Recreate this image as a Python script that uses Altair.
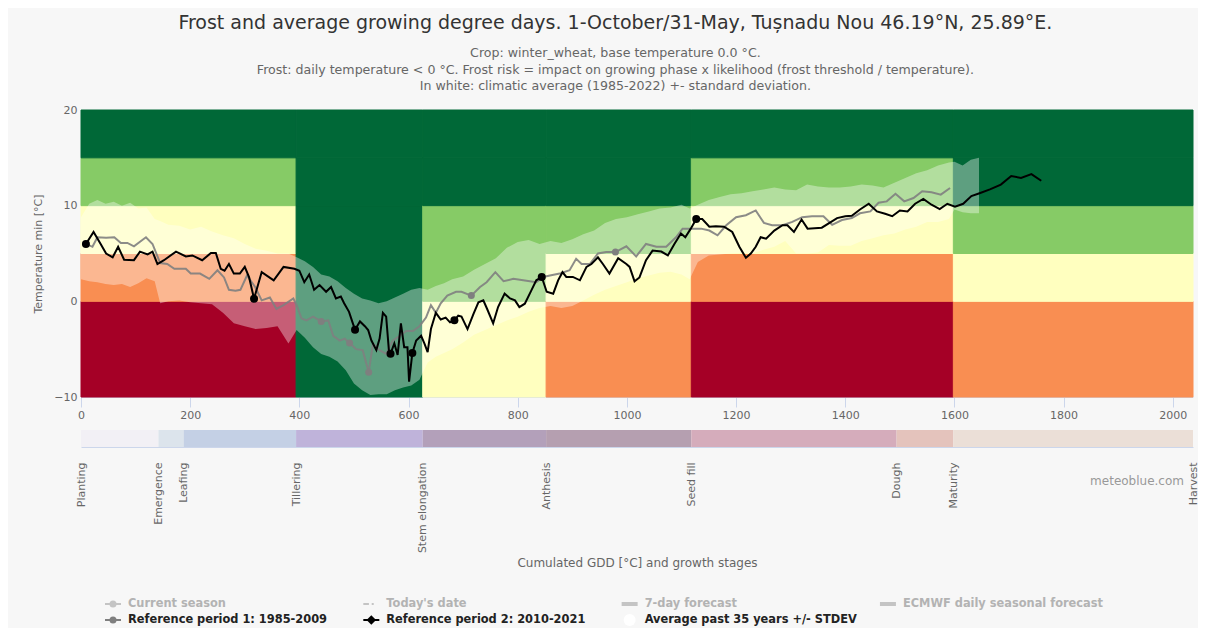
import altair as alt
import pandas as pd

# ---------------- data ----------------
title_text = "Frost and average growing degree days. 1-October/31-May, Tușnadu Nou 46.19°N, 25.89°E."
subtitle_lines = [
    "Crop: winter_wheat, base temperature 0.0 °C.",
    "Frost: daily temperature < 0 °C. Frost risk = impact on growing phase x likelihood (frost threshold / temperature).",
    "In white: climatic average (1985-2022) +- standard deviation.",
]

# growth stages (cumulated GDD where each stage starts)
stage_names = ["Planting", "Emergence", "Leafing", "Tillering", "Stem elongation",
               "Anthesis", "Seed fill", "Dough", "Maturity", "Harvest"]
stage_gdd = [0, 142, 188, 394, 626, 852, 1118, 1494, 1598, 2037]
stage_colors = ["#f2f0f5", "#dce4ec", "#c4d0e5", "#bfb3da", "#b3a0ba",
                "#b59fb0", "#d5acbb", "#e4c3bc", "#ebdfd7"]

# frost-risk zones: GDD ranges x temperature bands
zone_start = [0, 394, 626, 852, 1118, 1598]
zone_end = [394, 626, 852, 1118, 1598, 2037]
band_edges = [-10, 0, 5, 10, 15, 20]
zone_levels = [  # risk class per temperature band, bottom to top
    ["rd", "or", "yl", "lg", "dg"],
    ["dg", "dg", "dg", "dg", "dg"],
    ["yl", "lg", "lg", "dg", "dg"],
    ["or", "yl", "lg", "dg", "dg"],
    ["rd", "or", "yl", "lg", "dg"],
    ["or", "yl", "lg", "dg", "dg"],
]
risk_keys = ["dg", "lg", "yl", "or", "rd"]
risk_colors = ["#006837", "#86cb66", "#ffffbf", "#f98e52", "#a50026"]

# climatic average +- stdev (gdd, lower, upper)
band = [
    (0, 2.3, 8.8), (15, 2.1, 10.2), (30, 2.0, 10.6), (45, 1.8, 10.2), (60, 1.7, 10.4),
    (75, 1.8, 10.0), (90, 1.5, 10.3), (105, 1.9, 9.7), (120, 2.4, 9.8), (135, 2.1, 8.6),
    (145, -0.2, 8.4), (160, 0.0, 8.0), (180, 0.1, 7.9), (200, -0.1, 7.5), (220, -0.2, 7.8),
    (240, -0.3, 7.3), (260, -1.2, 6.9), (280, -2.3, 6.6), (300, -2.6, 6.0), (320, -2.9, 5.5),
    (340, -2.8, 5.3), (360, -2.6, 5.0), (380, -4.4, 5.0), (395, -3.0, 4.6), (410, -3.8, 4.2),
    (425, -4.8, 3.6), (440, -5.5, 2.8), (455, -5.8, 2.6), (470, -6.3, 2.1), (485, -7.2, 1.4),
    (500, -8.6, 0.8), (515, -9.3, 0.3), (530, -9.8, 0.1), (545, -9.7, -0.2), (560, -9.7, 0.0),
    (575, -9.3, 0.4), (590, -9.0, 0.8), (605, -8.8, 1.2), (620, -8.2, 1.4), (635, -6.4, 1.2),
    (650, -5.8, 1.6), (665, -5.4, 1.9), (680, -5.0, 2.3), (700, -4.3, 2.6), (720, -3.5, 3.3),
    (740, -3.0, 3.9), (760, -2.5, 4.5), (780, -2.0, 5.6), (800, -1.6, 6.2), (820, -1.1, 6.4),
    (840, -0.7, 6.0), (860, -0.5, 6.3), (880, -0.7, 6.1), (900, -0.5, 6.5), (920, 0.1, 7.0),
    (940, 0.7, 7.4), (960, 1.2, 8.2), (980, 1.6, 8.6), (1000, 2.0, 8.8), (1020, 2.4, 9.1),
    (1040, 2.7, 9.4), (1060, 3.0, 9.7), (1080, 3.1, 9.8), (1100, 2.8, 10.1), (1115, 2.3, 9.7),
    (1130, 4.1, 10.1), (1150, 4.8, 10.6), (1170, 4.9, 10.9), (1190, 5.0, 11.2), (1210, 5.05, 11.3),
    (1230, 5.0, 11.5), (1250, 5.4, 11.7), (1270, 5.7, 11.9), (1290, 6.3, 11.7), (1310, 5.0, 11.6),
    (1330, 5.0, 12.2), (1350, 5.1, 12.0), (1370, 5.9, 11.9), (1390, 5.8, 11.9), (1410, 5.8, 12.0),
    (1430, 6.3, 12.2), (1450, 6.6, 12.1), (1470, 6.9, 11.9), (1490, 7.1, 12.4), (1510, 7.5, 12.9),
    (1530, 7.8, 13.4), (1550, 8.3, 13.7), (1570, 8.3, 14.2), (1590, 8.6, 14.5), (1600, 9.6, 14.6),
    (1615, 9.3, 14.2), (1630, 9.2, 14.8), (1645, 9.2, 15.0),
]

# Reference period 1: 1985-2009 (gdd, tmin)
ref1 = [
    (9, 6.0), (21, 5.7), (30, 6.7), (46, 6.65), (61, 6.7), (73, 6.1), (85, 6.1), (97, 5.75),
    (119, 6.7), (131, 6.0), (145, 4.0), (158, 3.9), (171, 3.4), (192, 3.4), (201, 2.9), (218, 2.9),
    (235, 2.35), (250, 3.25), (262, 2.5), (271, 1.2), (283, 1.1), (292, 1.2), (304, 2.7), (319, 1.5),
    (331, 0.1), (346, 0.4), (358, -0.8), (371, -0.4), (389, 0.3), (395, -0.4), (404, -1.8), (413, -2.0),
    (425, -1.6), (440, -2.1), (453, -2.0), (462, -3.6), (474, -4.1), (483, -3.9), (492, -4.35), (504, -5.0),
    (516, -5.1), (527, -7.4), (535, -4.4), (547, -5.1), (559, -5.5), (571, -4.1), (584, -3.6), (596, -3.1),
    (608, -3.1), (620, -2.6), (632, -1.7), (641, -0.4), (650, -1.2), (659, -0.2), (671, 0.6), (687, 1.0),
    (697, 1.0), (715, 0.6), (731, 1.5), (743, 2.0), (759, 3.05), (774, 2.1), (792, 2.35), (810, 2.2),
    (834, 2.0), (847, 2.55), (859, 2.7), (877, 2.9), (895, 3.25), (907, 4.45), (917, 3.9), (932, 3.9),
    (947, 5.0), (962, 5.15), (979, 5.15), (999, 5.75), (1017, 4.7), (1035, 6.0), (1054, 5.7), (1072, 5.7),
    (1090, 6.7), (1102, 7.6), (1121, 7.6), (1136, 7.6), (1151, 7.4), (1166, 6.9), (1182, 7.95), (1200, 8.8),
    (1218, 9.0), (1236, 9.5), (1251, 8.2), (1266, 7.95), (1285, 7.95), (1303, 8.3), (1321, 8.8), (1339, 8.9),
    (1360, 8.9), (1376, 8.0), (1394, 8.5), (1412, 8.7), (1427, 9.2), (1446, 9.4), (1461, 10.3), (1476, 10.45),
    (1492, 11.25), (1508, 10.45), (1525, 10.8), (1541, 11.5), (1558, 11.4), (1575, 11.15), (1592, 11.85),
]
ref1_markers = [(440, -2.1), (492, -4.35), (527, -7.4), (715, 0.6), (979, 5.15)]

# Reference period 2: 2010-2021 (gdd, tmin)
ref2 = [
    (9, 6.0), (23, 7.25), (36, 6.0), (46, 5.0), (58, 4.6), (68, 5.7), (79, 4.35), (97, 4.3),
    (108, 5.2), (122, 4.9), (131, 5.2), (140, 3.9), (152, 4.3), (174, 5.2), (192, 4.7), (204, 4.8),
    (222, 4.3), (238, 5.05), (247, 5.05), (256, 3.4), (263, 3.2), (271, 3.9), (280, 2.9), (291, 2.9),
    (300, 3.6), (308, 2.5), (317, 0.28), (331, 3.06), (353, 2.2), (371, 3.6), (391, 3.4), (400, 3.2),
    (409, 2.0), (418, 2.8), (427, 1.2), (437, 1.7), (449, 1.0), (458, 1.5), (467, 0.3), (476, 0.5),
    (482, -0.2), (491, -1.1), (498, -2.3), (502, -2.96), (511, -2.1), (520, -2.6), (526, -3.0), (532, -4.1),
    (541, -5.1), (547, -3.9), (553, -1.2), (559, -1.6), (564, -5.1), (567, -5.47), (574, -4.4), (580, -5.6),
    (586, -2.3), (592, -4.8), (598, -4.8), (601, -8.4), (607, -5.4), (614, -4.1), (623, -3.6), (629, -4.4),
    (635, -5.3), (641, -2.9), (650, -1.2), (659, -1.9), (668, -1.7), (676, -2.2), (684, -1.99), (691, -1.5),
    (697, -1.6), (708, -2.9), (719, -1.3), (728, -0.1), (737, 0.1), (744, -0.8), (755, -2.3), (764, -0.6),
    (776, 0.8), (786, 0.3), (795, 0.1), (803, -0.6), (813, -0.25), (825, 1.15), (834, 2.2), (844, 2.55),
    (853, 1.0), (865, 0.8), (874, 2.2), (882, 3.05), (889, 2.55), (901, 2.55), (914, 2.2), (926, 3.6),
    (935, 3.9), (947, 4.6), (956, 3.9), (968, 2.9), (984, 4.5), (999, 3.9), (1005, 3.6), (1014, 2.1),
    (1023, 2.5), (1035, 4.3), (1047, 5.3), (1063, 5.2), (1075, 4.8), (1087, 6.0), (1099, 7.1), (1107, 6.7),
    (1117, 7.6), (1127, 8.6), (1138, 8.6), (1151, 7.8), (1163, 7.85), (1178, 7.8), (1193, 7.25), (1206, 5.7),
    (1218, 4.55), (1227, 5.0), (1236, 5.7), (1245, 6.7), (1255, 6.55), (1270, 7.4), (1285, 7.95), (1294, 7.95),
    (1306, 7.25), (1320, 8.55), (1331, 7.6), (1357, 7.7), (1385, 8.7), (1400, 8.9), (1412, 8.95), (1427, 9.6),
    (1443, 10.2), (1458, 9.4), (1473, 9.15), (1486, 8.9), (1500, 9.5), (1514, 9.4), (1528, 10.2), (1543, 10.7),
    (1558, 10.1), (1573, 9.65), (1587, 10.2), (1601, 9.9), (1616, 10.2), (1631, 11.0), (1646, 11.3), (1665, 11.7),
    (1685, 12.2), (1704, 13.1), (1722, 12.9), (1741, 13.3), (1759, 12.6),
]
ref2_markers = [(9, 6.0), (317, 0.28), (502, -2.96), (567, -5.47), (607, -5.4),
                (684, -1.99), (844, 2.55), (1127, 8.6)]

x_ticks = [0, 200, 400, 600, 800, 1000, 1200, 1400, 1600, 1800, 2000]
y_ticks = [-10, 0, 10, 20]

legend_labels = ["Current season", "Today's date", "7-day forecast", "ECMWF daily seasonal forecast",
                 "Reference period 1: 1985-2009", "Reference period 2: 2010-2021",
                 "Average past 35 years +/- STDEV"]
legend_row = [0, 0, 0, 0, 1, 1, 1]
legend_col = [0, 1, 2, 3, 0, 1, 2]
legend_symbol = ["line_dot", "dashdot", "thick", "thick", "line_dot", "line_diamond", "circle"]
legend_color = ["#c4c4c4", "#c4c4c4", "#c4c4c4", "#c4c4c4", "#7f7f7f", "#000000", "#ffffff"]
legend_text_color = ["#b3b3b3", "#b3b3b3", "#b3b3b3", "#b3b3b3", "#222222", "#222222", "#222222"]
credit = "meteoblue.com"

# ---------------- tables ----------------
FONT = "DejaVu Sans"
W = 1112
X_DOMAIN = [0, 2037]

zone_rows = []
for zs, ze, levels in zip(zone_start, zone_end, zone_levels):
    for k, lev in enumerate(levels):
        zone_rows.append({"x0": zs, "x1": ze, "y0": band_edges[k], "y1": band_edges[k + 1], "risk": lev})
zone_df = pd.DataFrame(zone_rows)
band_df = pd.DataFrame(band, columns=["gdd", "lo", "hi"])
ref1_df = pd.DataFrame(ref1, columns=["gdd", "t"])
ref2_df = pd.DataFrame(ref2, columns=["gdd", "t"])
ref1_m_df = pd.DataFrame(ref1_markers, columns=["gdd", "t"])
ref2_m_df = pd.DataFrame(ref2_markers, columns=["gdd", "t"])
stage_df = pd.DataFrame({"s0": stage_gdd[:-1], "s1": stage_gdd[1:],
                         "name": stage_names[:-1], "c": stage_colors})
legend_df = pd.DataFrame({"label": legend_labels, "row": legend_row, "col": legend_col,
                          "sym": legend_symbol, "c": legend_color, "tc": legend_text_color})

xscale = alt.Scale(domain=X_DOMAIN, nice=False, zero=False)
yscale = alt.Scale(domain=[-10, 20], nice=False, zero=False)

x_axis_main = alt.Axis(values=x_ticks, format="d", tickSize=10, tickColor="#ccd6eb",
                       domainColor="#ccd6eb", labelFont=FONT, labelFontSize=11,
                       labelColor="#666666", labelPadding=2, labelFlush=False, grid=False, title=None)
y_axis_main = alt.Axis(values=y_ticks, ticks=False, domain=False, grid=False, labelFont=FONT,
                       labelFontSize=11, labelColor="#666666", labelPadding=4,
                       title="Temperature min [°C]", titleFont=FONT, titleFontSize=11,
                       titleColor="#666666", titleFontWeight="normal", titlePadding=10)

risk_scale = alt.Scale(domain=risk_keys, range=risk_colors)
zones = alt.Chart(zone_df).mark_rect(strokeWidth=1).encode(
    x=alt.X("x0:Q", scale=xscale, axis=x_axis_main),
    x2="x1:Q",
    y=alt.Y("y0:Q", scale=yscale, axis=y_axis_main),
    y2="y1:Q",
    color=alt.Color("risk:N", scale=risk_scale, legend=None),
    stroke=alt.Stroke("risk:N", scale=risk_scale, legend=None),
)
band_layer = alt.Chart(band_df).mark_area(color="#ffffff", opacity=0.37).encode(
    x="gdd:Q", y="lo:Q", y2="hi:Q")
ref1_line = alt.Chart(ref1_df).mark_line(color="#7f7f7f", strokeWidth=2, opacity=0.9).encode(
    x="gdd:Q", y="t:Q")
ref2_line = alt.Chart(ref2_df).mark_line(color="#000000", strokeWidth=2).encode(
    x="gdd:Q", y="t:Q")
ref1_pts = alt.Chart(ref1_m_df).mark_point(filled=True, shape="circle", size=49, color="#7f7f7f",
                                           opacity=1).encode(x="gdd:Q", y="t:Q")
ref2_pts = alt.Chart(ref2_m_df).mark_point(filled=True, shape="circle", size=64, color="#000000",
                                           opacity=1).encode(x="gdd:Q", y="t:Q")

main = alt.layer(zones, band_layer, ref1_line, ref2_line, ref1_pts, ref2_pts).properties(
    width=W, height=287)

# growth stage bar
label_expr = " : ".join(f"datum.value == {g} ? '{n}'" for g, n in zip(stage_gdd, stage_names)) + " : ''"
stage_axis = alt.Axis(values=stage_gdd, labelExpr=label_expr, labelAngle=270, ticks=False, tickSize=0,
                      labelPadding=15, domainColor="#ccd6eb", grid=False, labelFont=FONT,
                      labelFontSize=11, labelColor="#666666", labelOverlap=False, labelFlush=False,
                      labelBound=False, title="Cumulated GDD [°C] and growth stages",
                      titleFont=FONT, titleFontSize=12, titleColor="#666666",
                      titleFontWeight="normal", titlePadding=5)
stage_bar = alt.Chart(stage_df).mark_rect().encode(
    x=alt.X("s0:Q", scale=xscale, axis=stage_axis),
    x2="s1:Q",
    color=alt.Color("c:N", scale=None, legend=None),
)
credit_text = alt.Chart(pd.DataFrame({"t": [credit]})).mark_text(
    align="right", baseline="middle", font=FONT, fontSize=12, color="#999999"
).encode(x=alt.value(1103), y=alt.value(51), text="t:N")
stages = alt.layer(stage_bar, credit_text).properties(width=W, height=17)

# legend
lx = alt.X("col:Q", scale=alt.Scale(domain=[-0.1239, 4.181], nice=False, zero=False), axis=None)
ly = alt.Y("row:O", axis=None)
lbase = alt.Chart(legend_df)
leg_line = lbase.transform_filter(
    alt.FieldOneOfPredicate(field="sym", oneOf=["line_dot", "line_diamond"])
).mark_point(shape="M-1,0L1,0", size=256, filled=False, strokeWidth=2, opacity=1).encode(
    x=lx, y=ly, stroke=alt.Stroke("c:N", scale=None))
leg_dash = lbase.transform_filter(alt.datum.sym == "dashdot").mark_point(
    shape="M-1,0L-0.3,0M0.05,0L0.3,0", size=256, filled=False, strokeWidth=2, opacity=1).encode(
    x=lx, y=ly, stroke=alt.Stroke("c:N", scale=None))
leg_thick = lbase.transform_filter(alt.datum.sym == "thick").mark_point(
    shape="M-1,0L1,0", size=256, filled=False, strokeWidth=4, opacity=1).encode(
    x=lx, y=ly, stroke=alt.Stroke("c:N", scale=None))
leg_dot = lbase.transform_filter(alt.datum.sym == "line_dot").mark_point(
    shape="circle", size=49, filled=True, opacity=1).encode(
    x=lx, y=ly, fill=alt.Fill("c:N", scale=None))
leg_diamond = lbase.transform_filter(alt.datum.sym == "line_diamond").mark_point(
    shape="diamond", size=90, filled=True, opacity=1).encode(
    x=lx, y=ly, fill=alt.Fill("c:N", scale=None))
leg_circle = lbase.transform_filter(alt.datum.sym == "circle").mark_point(
    shape="circle", size=144, filled=True, opacity=1).encode(
    x=lx, y=ly, fill=alt.Fill("c:N", scale=None))
leg_text = lbase.mark_text(align="left", baseline="middle", dx=15, font=FONT, fontSize=11.4,
                           fontWeight="bold").encode(
    x=lx, y=ly, text="label:N", color=alt.Color("tc:N", scale=None))
legend = alt.layer(leg_line, leg_dash, leg_thick, leg_dot, leg_diamond, leg_circle, leg_text).properties(
    width=W, height=32)

upper = alt.vconcat(main, stages, spacing=10)
chart = alt.vconcat(upper, legend, spacing=27).properties(
    title=alt.TitleParams(text=title_text, subtitle=subtitle_lines, anchor="middle", font=FONT,
                          fontSize=19, fontWeight="normal", color="#333333",
                          subtitleFont=FONT, subtitleFontSize=12.6, subtitleColor="#666666",
                          subtitleLineHeight=16.7, subtitlePadding=14, offset=11),
    padding={"left": 24, "top": 6, "right": 0, "bottom": 0},
    background="#f7f7f7",
).configure_view(stroke=None).configure_text(font=FONT)

chart.save("out.html", embed_options={"renderer": "svg", "actions": False})
